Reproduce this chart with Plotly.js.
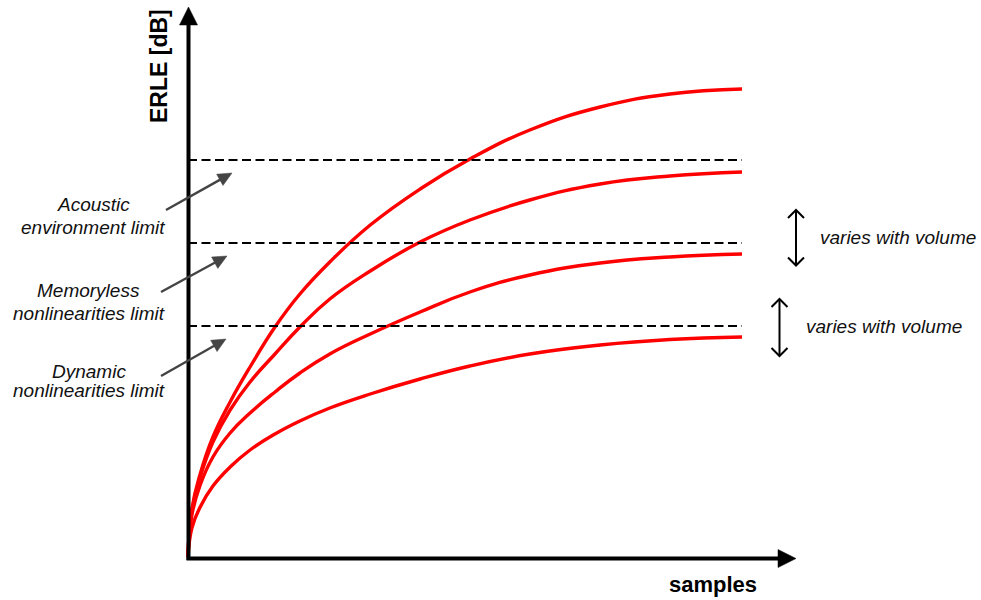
<!DOCTYPE html>
<html>
<head>
<meta charset="utf-8">
<script src="https://cdn.plot.ly/plotly-3.0.1.min.js"></script>
<style>html,body{margin:0;padding:0;background:#fff;}#chart{width:981px;height:600px;}</style>
</head>
<body>
<div id="chart"></div>
<script>
// ---- data (samples in arbitrary units, ERLE in dB) ----
const samples    = [0, 0.07, 0.22, 0.45, 0.76, 1.12, 1.57, 2.02, 2.56, 3.29, 4.19, 5.09, 6.17, 7.44, 8.70, 10.0];
const erleCurve1 = [0, 4.8, 8.3, 12.0, 15.5, 19.0, 23.0, 26.3, 29.5, 33.2, 36.8, 39.8, 42.7, 45.0, 46.3, 46.8];
const erleCurve2 = [0, 4.6, 8.0, 11.5, 14.7, 17.5, 20.3, 23.0, 25.8, 28.6, 31.5, 33.7, 35.7, 37.3, 38.1, 38.5];
const erleCurve3 = [0, 4.2, 7.2, 10.0, 12.4, 14.4, 16.5, 18.4, 20.3, 22.3, 24.5, 26.5, 28.2, 29.4, 30.0, 30.3];
const erleCurve4 = [0, 2.9, 5.0, 7.1, 9.0, 10.7, 12.3, 13.6, 14.9, 16.3, 17.8, 19.1, 20.3, 21.2, 21.75, 22.0];
const limitLevels = [39.7, 31.4, 23.1];
const limitSpan = [0, 10.0];
const limitLabels = [["Acoustic", "environment limit"], ["Memoryless", "nonlinearities limit"], ["Dynamic", "nonlinearities limit"]];
const volumeLabel = "varies with volume";
const xTitle = "samples";
const yTitle = "ERLE [dB]";

// ---- geometry helpers (pixel -> data) ----
const W = 981, H = 600;
const OX = 188, OY = 557, PXX = 55.4, PXY = 10;
const dx = px => (px - OX) / PXX;
const dy = py => (OY - py) / PXY;
const pt = (px, py) => dx(px).toFixed(4) + "," + dy(py).toFixed(4);

const FONT = "Liberation Sans, Arial, Helvetica, sans-serif";

const traces = [];
[erleCurve1, erleCurve2, erleCurve3, erleCurve4].forEach(c => {
  traces.push({x: samples, y: c, mode: "lines", line: {color: "#ff0000", width: 3.4, shape: "spline", smoothing: 1.3}, hoverinfo: "skip", showlegend: false});
});
limitLevels.forEach(v => {
  traces.push({x: limitSpan, y: [v, v], mode: "lines", line: {color: "#000", width: 2, dash: "9px,4.5px"}, hoverinfo: "skip", showlegend: false});
});

const shapes = [];
function line(x0, y0, x1, y1, color, width) {
  shapes.push({type: "path", xref: "x", yref: "y", path: "M" + pt(x0, y0) + " L" + pt(x1, y1), line: {color: color, width: width}});
}
function tri(p, color) {
  shapes.push({type: "path", xref: "x", yref: "y", path: "M" + pt(p[0], p[1]) + " L" + pt(p[2], p[3]) + " L" + pt(p[4], p[5]) + " Z", fillcolor: color, line: {color: color, width: 0.5}});
}
function vhead(x0, y0, x1, y1, x2, y2, color, width) {
  shapes.push({type: "path", xref: "x", yref: "y", path: "M" + pt(x0, y0) + " L" + pt(x1, y1) + " L" + pt(x2, y2), line: {color: color, width: width}});
}
function arrow(tx, ty, hx, hy, color, width, hl, hw) {
  const L = Math.hypot(hx - tx, hy - ty), ux = (hx - tx) / L, uy = (hy - ty) / L;
  const bx = hx - ux * hl, by = hy - uy * hl;
  line(tx, ty, bx + ux * 1, by + uy * 1, color, width);
  tri([hx, hy, bx - uy * hw, by + ux * hw, bx + uy * hw, by - ux * hw], color);
}

// axes with arrowheads
line(188.5, 560, 188.5, 23, "#000", 4);
tri([188.5, 7, 179.5, 25, 197.5, 25], "#000");
line(186.5, 558.5, 779, 558.5, "#000", 4);
tri([796, 558.5, 778, 549.5, 778, 567.5], "#000");

// gray pointer arrows
const pointerArrows = [[166, 210, 232, 173], [161, 292, 227, 256], [161, 376, 226, 339]];
pointerArrows.forEach(a => arrow(a[0], a[1], a[2], a[3], "#444", 2.4, 14, 6.5));

// double-headed black arrows
function dbl(x, ytop, ybot) {
  line(x, ytop + 1, x, ybot - 1, "#000", 2);
  vhead(x - 8, ytop + 8.5, x, ytop + 0.5, x + 8, ytop + 8.5, "#000", 2);
  vhead(x - 8, ybot - 8.5, x, ybot - 0.5, x + 8, ybot - 8.5, "#000", 2);
}
dbl(796, 209.5, 266);
dbl(779.5, 298.5, 356.5);

const annotations = [];
function txt(text, px, py, opts) {
  annotations.push(Object.assign({x: dx(px), y: dy(py), xref: "x", yref: "y", text: text, showarrow: false,
    font: {family: FONT, size: 19, color: "#111"}, xanchor: "center", yanchor: "middle"}, opts || {}));
}
const labelCenters = [[93, 204.5, 227.5], [88.5, 290, 313], [88.5, 371, 390.5]];
limitLabels.forEach((lab, i) => {
  const c = labelCenters[i];
  txt("<i>" + lab[0] + "</i>", c[0], c[1]);
  txt("<i>" + lab[1] + "</i>", c[0], c[2]);
});
txt("<i>" + volumeLabel + "</i>", 818, 237, {xanchor: "left"});
txt("<i>" + volumeLabel + "</i>", 804, 326.5, {xanchor: "left"});
txt("<b>" + xTitle + "</b>", 713, 584.5, {font: {family: FONT, size: 22, color: "#000"}});
txt("<b>" + yTitle + "</b>", 159, 66, {textangle: -90, font: {family: FONT, size: 23, color: "#000"}});

const layout = {
  width: W, height: H,
  margin: {l: 0, r: 0, t: 0, b: 0, pad: 0},
  paper_bgcolor: "#fff", plot_bgcolor: "#fff",
  xaxis: {range: [dx(0), dx(W)], visible: false, showgrid: false, zeroline: false, fixedrange: true},
  yaxis: {range: [dy(H), dy(0)], visible: false, showgrid: false, zeroline: false, fixedrange: true},
  shapes: shapes,
  annotations: annotations,
  showlegend: false
};
Plotly.newPlot("chart", traces, layout, {displayModeBar: false, staticPlot: true});
</script>
</body>
</html>
